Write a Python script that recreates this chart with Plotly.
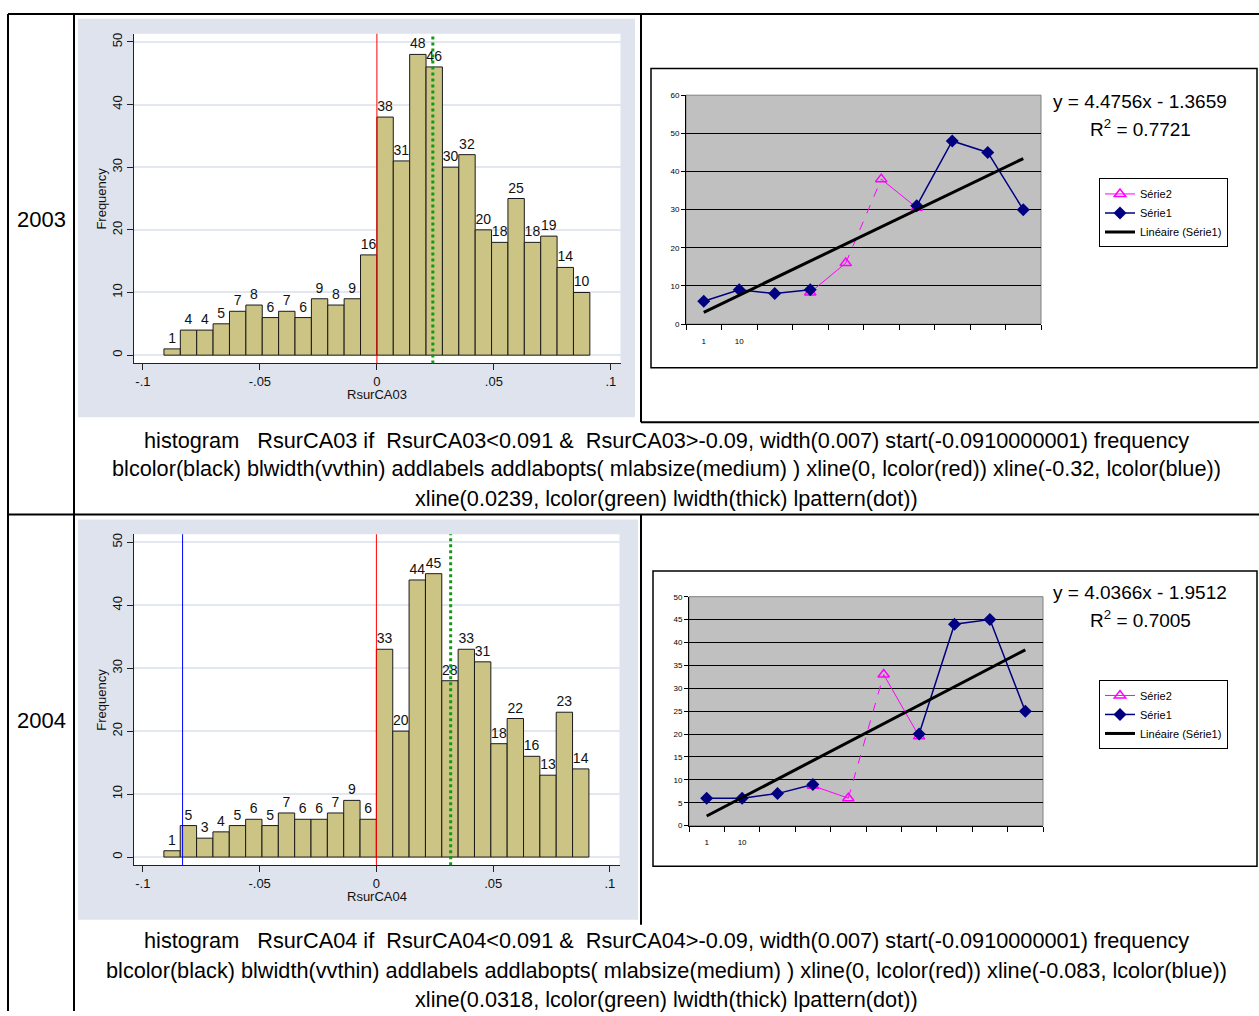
import plotly.graph_objects as go

W, H = 1259, 1016


def px(x):
    return x / W


def py(y):
    return 1 - y / H


# ---- histogram data (Stata) ----
bin_start = -0.091
bin_width = 0.007
freq_2003 = [1, 4, 4, 5, 7, 8, 6, 7, 6, 9, 8, 9, 16, 38, 31, 48, 46, 30, 32, 20, 18, 25, 18, 19, 14, 10]
freq_2004 = [1, 5, 3, 4, 5, 6, 5, 7, 6, 6, 7, 9, 6, 33, 20, 44, 45, 28, 33, 31, 18, 22, 16, 13, 23, 14]
xlines_2003 = [(0, "red"), (-0.32, "blue"), (0.0239, "green")]
xlines_2004 = [(0, "red"), (-0.083, "blue"), (0.0318, "green")]
hist_xticks = [-0.1, -0.05, 0, 0.05, 0.1]
hist_xticklabels = ["-.1", "-.05", "0", ".05", ".1"]
hist_yticks = [0, 10, 20, 30, 40, 50]

# ---- excel line charts ----
cats = [1, 2, 3, 4, 5, 6, 7, 8, 9, 10]
cat_labels = ["1", "10"]
s1_2003 = [6, 9, 8, 9, None, None, 31, 48, 45, 30]
s2_2003 = [None, None, None, 8.3, 16, 38, 30.5, None, None, None]
trend_2003 = [3.1, 43.4]
s1_2004 = [6, 6, 7, 9, None, None, 20, 44, 45, 25]
s2_2004 = [None, None, None, 8.7, 6, 33, 19.5, None, None, None]
trend_2004 = [2.1, 38.4]
s2_dashed = [(4, 5)]
eq_2003 = ["y = 4.4756x - 1.3659", "R<sup>2</sup> = 0.7721"]
eq_2004 = ["y = 4.0366x - 1.9512", "R<sup>2</sup> = 0.7005"]

captions_2003 = [
    "histogram\u00a0\u00a0 RsurCA03 if\u00a0 RsurCA03&lt;0.091 &amp;\u00a0 RsurCA03&gt;-0.09, width(0.007) start(-0.0910000001) frequency",
    "blcolor(black) blwidth(vvthin) addlabels addlabopts( mlabsize(medium) ) xline(0, lcolor(red)) xline(-0.32, lcolor(blue))",
    "xline(0.0239, lcolor(green) lwidth(thick) lpattern(dot))",
]
captions_2004 = [
    "histogram\u00a0\u00a0 RsurCA04 if\u00a0 RsurCA04&lt;0.091 &amp;\u00a0 RsurCA04&gt;-0.09, width(0.007) start(-0.0910000001) frequency",
    "blcolor(black) blwidth(vvthin) addlabels addlabopts( mlabsize(medium) ) xline(0, lcolor(red)) xline(-0.083, lcolor(blue))",
    "xline(0.0318, lcolor(green) lwidth(thick) lpattern(dot))",
]

STATA_BG = "#dfe3ee"
STATA_GRID = "#e3e7f0"
BAR = "#ccc484"
LINE_COLORS = {"red": "#ff0000", "blue": "#0000ff", "green": "#129a12"}
SFONT = "Liberation Sans, Arial, sans-serif"
CAPFONT = "Liberation Sans, Arial, sans-serif"

fig = go.Figure()
shapes = []
annotations = []

hist_panels = [
    # freq, xlines, axis suffix, bg box, plot box, y range, xtitle
    (freq_2003, xlines_2003, "", (78, 15, 635, 417), (134, 30, 620.5, 362.7), [-1.33, 51.3], "RsurCA03"),
    (freq_2004, xlines_2004, "3", (78, 520, 638, 924), (134, 535, 619.5, 869), [-1.31, 51.26], "RsurCA04"),
]
xrange_h = [-0.1038, 0.1041]

layout_axes = {}
for freq, xlines, sfx, bg, box, yr, xtitle in hist_panels:
    centers = [bin_start + bin_width * (i + 0.5) for i in range(len(freq))]
    xa, ya = "x" + sfx, "y" + sfx
    fig.add_trace(go.Bar(
        x=centers, y=freq, width=bin_width, xaxis=xa, yaxis=ya,
        marker=dict(color=BAR, line=dict(color="#1a1a1a", width=1)),
        text=[str(v) for v in freq], textposition="outside", constraintext="none",
        textfont=dict(family=SFONT, size=14, color="#111"), cliponaxis=False,
        showlegend=False, hoverinfo="x+y",
    ))
    shapes.append(dict(type="rect", xref="paper", yref="paper", layer="below",
                       x0=px(bg[0]), x1=px(bg[2]), y0=py(bg[3]), y1=py(bg[1]),
                       fillcolor=STATA_BG, line=dict(width=0)))
    shapes.append(dict(type="rect", xref="paper", yref="paper", layer="below",
                       x0=px(box[0]), x1=px(box[2]), y0=py(box[3]), y1=py(box[1]),
                       fillcolor="white", line=dict(width=0)))
    for xv, col in xlines:
        if xrange_h[0] <= xv <= xrange_h[1]:
            green = col == "green"
            shapes.append(dict(type="line", xref=xa, yref=ya + " domain", x0=xv, x1=xv, y0=0, y1=1,
                               line=dict(color=LINE_COLORS[col], width=3 if green else 1,
                                         dash="dot" if green else "solid")))
    xkey = "xaxis" + sfx
    ykey = "yaxis" + sfx
    layout_axes[xkey] = dict(
        domain=[px(box[0]), px(box[2])], anchor=ya, range=xrange_h,
        tickvals=hist_xticks, ticktext=hist_xticklabels, ticks="outside", ticklen=6,
        tickcolor="#222", showline=True, linecolor="#222", linewidth=1, showgrid=False,
        zeroline=False, tickfont=dict(family=SFONT, size=13, color="#111"),
    )
    layout_axes[ykey] = dict(
        domain=[py(box[3]), py(box[1])], anchor=xa, range=yr,
        tickvals=hist_yticks, ticks="outside", ticklen=6, tickangle=-90,
        tickcolor="#222", showline=True, linecolor="#222", linewidth=1,
        showgrid=True, gridcolor=STATA_GRID, gridwidth=2, zeroline=False,
        tickfont=dict(family=SFONT, size=13, color="#111"),
    )
    annotations.append(dict(text=xtitle, xref="paper", yref="paper", x=px(377), y=py(box[3] + 31),
                            showarrow=False, xanchor="center", yanchor="middle",
                            font=dict(family=SFONT, size=13, color="#111")))
    annotations.append(dict(text="Frequency", xref="paper", yref="paper", x=px(102),
                            y=py((box[1] + box[3]) / 2), textangle=-90, showarrow=False,
                            xanchor="center", yanchor="middle",
                            font=dict(family=SFONT, size=13, color="#111")))

excel_panels = [
    (s1_2003, s2_2003, trend_2003, eq_2003, "2", "legend", (651, 65, 1257, 367),
     (686, 92, 1041, 323), [0, 60], 10, (98, 125), 176),
    (s1_2004, s2_2004, trend_2004, eq_2004, "4", "legend2", (653, 572, 1257, 870),
     (689, 598, 1043, 829), [0, 50], 5, (594, 621), 682),
]
for s1, s2, trend, eq, sfx, leg, frame, box, yr, dt, eqy, legy in excel_panels:
    xa, ya = "x" + sfx, "y" + sfx
    # Série2 solid parts (gap where the dashed segment goes)
    xs, ys = [], []
    for i, v in enumerate(s2):
        if any(i == b for a, b in s2_dashed):
            xs.append(None)
            ys.append(None)
        xs.append(cats[i])
        ys.append(v)
    fig.add_trace(go.Scatter(
        x=xs, y=ys, xaxis=xa, yaxis=ya, mode="lines+markers", name="Série2", legend=leg,
        line=dict(color="#ff00ff", width=1),
        marker=dict(symbol="triangle-up-open", size=10, color="#ff00ff", line=dict(width=1.5)),
    ))
    for a, b in s2_dashed:
        fig.add_trace(go.Scatter(
            x=[cats[a], cats[b]], y=[s2[a], s2[b]], xaxis=xa, yaxis=ya, mode="lines",
            line=dict(color="#ff00ff", width=1, dash="dash"), showlegend=False, legend=leg,
        ))
    fig.add_trace(go.Scatter(
        x=cats, y=s1, xaxis=xa, yaxis=ya, mode="lines+markers", name="Série1", legend=leg,
        line=dict(color="#000080", width=1.5),
        marker=dict(symbol="diamond", size=10, color="#000080"),
    ))
    fig.add_trace(go.Scatter(
        x=[cats[0], cats[-1]], y=trend, xaxis=xa, yaxis=ya, mode="lines",
        name="Linéaire (Série1)", legend=leg, line=dict(color="black", width=3),
    ))
    shapes.append(dict(type="rect", xref="paper", yref="paper", layer="below",
                       x0=px(frame[0]), x1=px(frame[2]), y0=py(frame[3]), y1=py(frame[1]),
                       fillcolor="white", line=dict(color="black", width=1.5)))
    shapes.append(dict(type="rect", xref="paper", yref="paper", layer="below",
                       x0=px(box[0]), x1=px(box[2]), y0=py(box[3]), y1=py(box[1]),
                       fillcolor="#c0c0c0", line=dict(color="#808080", width=1)))
    layout_axes["xaxis" + sfx] = dict(
        domain=[px(box[0]), px(box[2])], anchor=ya, range=[0.5, len(cats) + 0.5],
        tickvals=cats[:len(cat_labels)], ticktext=cat_labels, ticks="outside", ticklen=9,
        tickcolor="rgba(0,0,0,0)", showline=True, linecolor="black", linewidth=1,
        showgrid=False, zeroline=False, tickfont=dict(family="Arial", size=8, color="black"),
        minor=dict(tickvals=[c - 0.5 for c in cats] + [cats[-1] + 0.5], ticks="outside",
                   ticklen=5, tickcolor="black", showgrid=False),
    )
    layout_axes["yaxis" + sfx] = dict(
        domain=[py(box[3]), py(box[1])], anchor=xa, range=yr, dtick=dt,
        ticks="outside", ticklen=4, tickcolor="black", showline=True, linecolor="black",
        linewidth=1, showgrid=True, gridcolor="black", gridwidth=1, zeroline=False,
        tickfont=dict(family="Arial", size=8, color="black"),
    )
    layout_axes[leg] = dict(
        x=px(1099), y=py(legy), xanchor="left", yanchor="top", bgcolor="white",
        bordercolor="black", borderwidth=1, font=dict(family="Arial", size=11, color="black"),
        tracegroupgap=0, itemwidth=30,
    )
    for txt, yy in zip(eq, eqy):
        annotations.append(dict(text=txt, xref="paper", yref="paper", x=px(1140), y=py(yy),
                                showarrow=False, xanchor="center", yanchor="middle",
                                font=dict(family="Arial", size=19, color="black")))

# ---- table grid ----
grid = [
    (8, 10, W, 10), (8, 10, 8, H), (74, 10, 74, H),
    (641, 10, 641, 422), (641, 422, W, 422), (8, 515, W, 515), (641, 515, 641, 929),
]
for x0, y0, x1, y1 in grid:
    shapes.append(dict(type="line", xref="paper", yref="paper", x0=px(x0), y0=py(y0),
                       x1=px(x1), y1=py(y1), line=dict(color="black", width=2)))

for year, yy in (("2003", 217), ("2004", 723)):
    annotations.append(dict(text=year, xref="paper", yref="paper", x=px(41), y=py(yy),
                            showarrow=False, xanchor="center", yanchor="middle",
                            font=dict(family="Liberation Sans, Arial", size=22, color="black")))

for lines, ys in ((captions_2003, (440, 469, 499)), (captions_2004, (945, 975, 1004))):
    for txt, yy in zip(lines, ys):
        annotations.append(dict(text=txt, xref="paper", yref="paper", x=px(666), y=py(yy),
                                showarrow=False, xanchor="center", yanchor="middle",
                                font=dict(family=CAPFONT, size=21.7, color="black")))

fig.update_layout(
    width=W, height=H, margin=dict(l=0, r=0, t=0, b=0),
    paper_bgcolor="white", plot_bgcolor="rgba(0,0,0,0)",
    shapes=shapes, annotations=annotations, **layout_axes,
)
fig.write_html("out.html", config={"displayModeBar": False},
               post_script="document.body.style.margin='0';")
